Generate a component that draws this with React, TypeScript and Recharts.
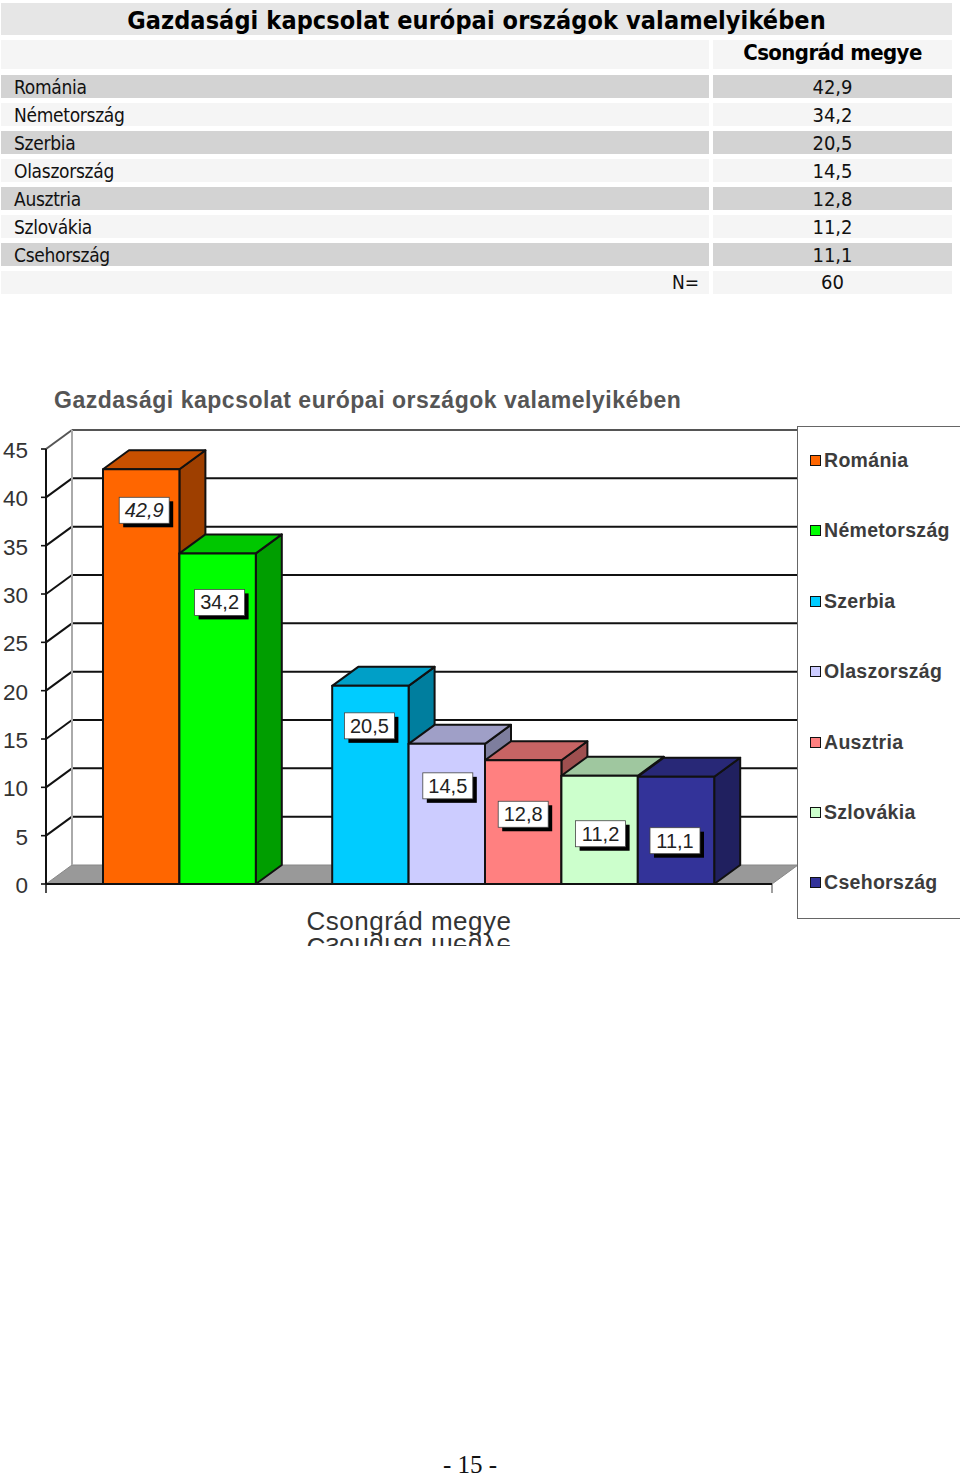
import { BarChart, Bar, XAxis, YAxis, CartesianGrid, Legend, LabelList, ReferenceArea } from "recharts"

const TITLE = "Gazdasági kapcsolat európai országok valamelyikében"
const REGION = "Csongrád megye"
const countries = ["Románia", "Németország", "Szerbia", "Olaszország", "Ausztria", "Szlovákia", "Csehország"]
const shares = [42.9, 34.2, 20.5, 14.5, 12.8, 11.2, 11.1]
const colors = ["#ff6600", "#00ff00", "#00ccff", "#ccccff", "#ff8080", "#ccffcc", "#333399"]
const yTicks = [0, 5, 10, 15, 20, 25, 30, 35, 40, 45]
const respondents = 60

// where each value box sits relative to its bar
const labelDrop = [41, 49, 40, 42, 54, 58, 64]
const labelShift = [3, 2, -1, 1, 0, 1, -1]

const DX = 26
const DY = 19
const CHART_TOP = 370

const row: Record<string, any> = { name: REGION }
countries.forEach((c, i) => (row[c] = shares[i]))
const data = [row]

const comma = (v: number) => String(v).replace(".", ",")

function shade(hex: string, k: number) {
  const n = parseInt(hex.slice(1), 16)
  const p = (s: number) => Math.round(((n >> s) & 255) * k)
  return `rgb(${p(16)},${p(8)},${p(0)})`
}

function Box3D({ x, y, width, height, fill }: any) {
  if (!height) return null
  const r = x + width
  const b = y + height
  return (
    <g stroke="#111" strokeWidth={2} strokeLinejoin="round">
      <polygon points={`${r},${y} ${r + DX},${y - DY} ${r + DX},${b - DY} ${r},${b}`} fill={shade(fill, 0.62)} />
      <polygon points={`${x},${y} ${x + DX},${y - DY} ${r + DX},${y - DY} ${r},${y}`} fill={shade(fill, 0.78)} />
      <rect x={x} y={y} width={width} height={height} fill={fill} />
    </g>
  )
}

function GridLine({ x1, y1, x2, index }: any) {
  const tick = yTicks[index]
  if (tick === 0) return null
  const color = tick === 45 ? "#555" : "#111"
  return (
    <g key={index} stroke={color} strokeWidth={2} fill="none">
      <line x1={x1} y1={y1} x2={x1 + DX} y2={y1 - DY} />
      <line x1={x1 + DX} y1={y1 - DY} x2={x2 + DX} y2={y1 - DY} />
    </g>
  )
}

function Walls({ x, y, width, height }: any) {
  const b = y + height
  const r = x + width
  return (
    <g>
      <polygon points={`${x},${b} ${x + DX},${b - DY} ${r + DX},${b - DY} ${r},${b}`} fill="#999" stroke="#888" />
      <line x1={x + DX} y1={y - DY} x2={x + DX} y2={b - DY} stroke="#aaa" strokeWidth={2} />
      <line x1={x} y1={b} x2={x} y2={b + 9} stroke="#222" strokeWidth={1.6} />
      <line x1={r} y1={b} x2={r} y2={b + 9} stroke="#888" strokeWidth={1.6} />
    </g>
  )
}

function RegionTick({ x, payload }: any) {
  const style = { fontFamily: "Liberation Sans", fontSize: 26, letterSpacing: 0.5, fill: "#333" }
  return (
    <g>
      <text x={x} y={930 - CHART_TOP} textAnchor="middle" {...style}>
        {payload.value}
      </text>
      <text x={0} y={0} textAnchor="middle" {...style} transform={`translate(${x},${938 - CHART_TOP}) scale(1,-1)`}>
        {payload.value}
      </text>
    </g>
  )
}

function ValueBox({ x, y, width, value, drop, shift, italic }: any) {
  const cx = x + width / 2 + shift
  const cy = y + drop
  return (
    <g>
      <rect x={cx - 25 + 4} y={cy + 4 - 13} width={50} height={26} fill="#000" />
      <rect x={cx - 25} y={cy - 13} width={50} height={26} fill="#fff" stroke="#444" strokeWidth={0.8} />
      <text
        x={cx}
        y={cy + 7}
        textAnchor="middle"
        fontFamily="Liberation Sans"
        fontSize={20}
        fontStyle={italic ? "italic" : "normal"}
        fill="#222"
      >
        {comma(value)}
      </text>
    </g>
  )
}

function LegendBox({ payload }: any) {
  const items = (payload || []).filter((p: any) => p.value !== "gap")
  return (
    <div
      style={{
        width: 163,
        height: 493,
        boxSizing: "border-box",
        borderLeft: "1.5px solid #666",
        borderTop: "1.5px solid #666",
        borderBottom: "1.5px solid #666",
        background: "#fff",
        position: "relative",
      }}
    >
      {items.map((p: any, i: number) => (
        <div
          key={p.value}
          style={{
            position: "absolute",
            left: 12,
            top: 22 + i * 70.4,
            display: "flex",
            alignItems: "center",
            whiteSpace: "nowrap",
          }}
        >
          <span
            style={{
              width: 9,
              height: 9,
              border: "1.5px solid #111",
              background: p.color,
              marginRight: 3,
              display: "inline-block",
            }}
          />
          <span
            style={{
              fontFamily: "Liberation Sans",
              fontWeight: "bold",
              fontSize: 19.5,
              letterSpacing: 0.3,
              color: "#3c3c3c",
            }}
          >
            {p.value}
          </span>
        </div>
      ))}
    </div>
  )
}

const tableFont = "'DejaVu Sans Condensed', 'DejaVu Sans'"

function Cell({ left, width, top, height, textDy = 0, bg, children, style }: any) {
  return (
    <div
      style={{
        position: "absolute",
        left,
        width,
        top,
        height,
        lineHeight: `${height + 2 * textDy}px`,
        background: bg,
        fontFamily: tableFont,
        fontSize: 20,
        color: "#111",
        whiteSpace: "nowrap",
        ...style,
      }}
    >
      {children}
    </div>
  )
}

export default function App() {
  return (
    <div style={{ position: "absolute", left: 0, top: 0, width: 960, height: 1475, background: "#fff", overflow: "hidden" }}>
      <Cell left={1} width={951} top={3} height={32} textDy={2} bg="#e6e6e6" style={{ textAlign: "center", fontWeight: "bold", fontSize: 25, letterSpacing: 0.1, color: "#000" }}>
        {TITLE}
      </Cell>
      <Cell left={1} width={708} top={40} height={29} bg="#f5f5f5" />
      <Cell left={713} width={239} top={40} height={29} textDy={-2} bg="#f5f5f5" style={{ textAlign: "center", fontWeight: "bold", fontSize: 22, letterSpacing: -0.6, color: "#000" }}>
        {REGION}
      </Cell>
      {countries.map((c, i) => {
        const bg = i % 2 === 0 ? "#d3d3d3" : "#f5f5f5"
        const top = 75 + i * 28
        return (
          <div key={c}>
            <Cell left={1} width={695} top={top} height={23} textDy={1} bg={bg} style={{ paddingLeft: 13, fontSize: 19, letterSpacing: -0.3 }}>
              {c}
            </Cell>
            <Cell left={713} width={239} top={top} height={23} textDy={1} bg={bg} style={{ textAlign: "center" }}>
              {comma(shares[i])}
            </Cell>
          </div>
        )
      })}
      <Cell left={1} width={698} top={271} height={23} bg="#f5f5f5" style={{ textAlign: "right", paddingRight: 10, fontSize: 19 }}>
        N=
      </Cell>
      <Cell left={713} width={239} top={271} height={23} bg="#f5f5f5" style={{ textAlign: "center" }}>
        {respondents}
      </Cell>

      <div style={{ position: "absolute", left: 0, top: CHART_TOP }}>
        <BarChart
          width={960}
          height={576}
          data={data}
          margin={{ top: 79, right: 25, bottom: 0, left: 0 }}
          barSize={76.4}
          barGap={0}
        >
          <text x={54} y={38} fontFamily="Liberation Sans" fontWeight="bold" fontSize={23} letterSpacing={0.52} fill="#555">
            {TITLE}
          </text>
          <CartesianGrid vertical={false} horizontal={(p: any) => <GridLine {...p} />} />
          <ReferenceArea y1={0} y2={45} shape={(p: any) => <Walls {...p} />} ifOverflow="visible" />
          <XAxis
            dataKey="name"
            height={62}
            tickLine={false}
            axisLine={{ stroke: "#111", strokeWidth: 2 }}
            tick={(p: any) => <RegionTick {...p} />}
            interval={0}
          />
          <YAxis
            width={46}
            domain={[0, 45]}
            ticks={yTicks}
            interval={0}
            tickSize={5}
            tickMargin={13}
            axisLine={{ stroke: "#111", strokeWidth: 2 }}
            tickLine={{ stroke: "#111", strokeWidth: 1.6 }}
            tick={{ fontFamily: "Liberation Sans", fontSize: 22.5, fill: "#333", dy: 1 }}
          />
          <Legend
            layout="vertical"
            align="right"
            verticalAlign="top"
            width={163}
            height={493}
            itemSorter={null}
            wrapperStyle={{ left: 797, top: 56 }}
            content={(p: any) => <LegendBox {...p} />}
          />
          {countries.slice(0, 2).map((c) => (
            <Bar key={c} dataKey={c} fill={colors[countries.indexOf(c)]} shape={(p: any) => <Box3D {...p} />} isAnimationActive={false}>
              <LabelList
                dataKey={c}
                content={(p: any) => (
                  <ValueBox
                    {...p}
                    drop={labelDrop[countries.indexOf(c)]}
                    shift={labelShift[countries.indexOf(c)]}
                    italic={c === countries[0]}
                  />
                )}
              />
            </Bar>
          ))}
          <Bar dataKey="gap" legendType="none" isAnimationActive={false} />
          {countries.slice(2).map((c) => (
            <Bar key={c} dataKey={c} fill={colors[countries.indexOf(c)]} shape={(p: any) => <Box3D {...p} />} isAnimationActive={false}>
              <LabelList
                dataKey={c}
                content={(p: any) => (
                  <ValueBox {...p} drop={labelDrop[countries.indexOf(c)]} shift={labelShift[countries.indexOf(c)]} />
                )}
              />
            </Bar>
          ))}
        </BarChart>
      </div>

      <div
        style={{
          position: "absolute",
          left: 0,
          width: 940,
          top: 1451,
          textAlign: "center",
          fontFamily: "Liberation Serif",
          fontSize: 25,
          color: "#111",
          whiteSpace: "pre",
        }}
      >
        - 15 -
      </div>
    </div>
  )
}
